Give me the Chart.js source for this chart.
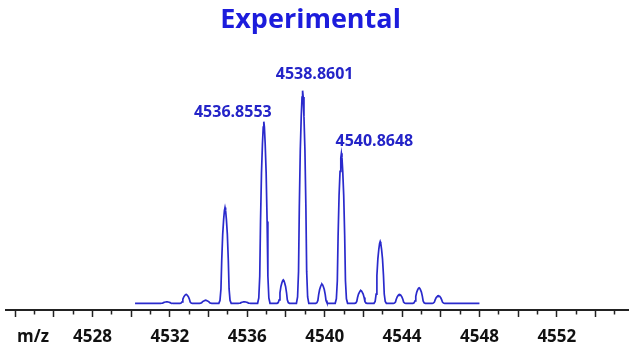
<!DOCTYPE html>
<html>
<head>
<meta charset="utf-8">
<script src="https://cdn.jsdelivr.net/npm/chart.js@4"></script>
<style>
  html, body { margin: 0; padding: 0; background: #ffffff; }
  #wrap { width: 629px; height: 354px; }
</style>
</head>
<body>
<div id="wrap"><canvas id="c" width="629" height="354"></canvas></div>
<script>
// Isotope peaks of the measured spectrum (m/z, relative intensity %)
const peakMz = [4531.84, 4532.84, 4533.85, 4534.85, 4535.85, 4536.8553, 4537.86,
                4538.8601, 4539.86, 4540.8648, 4541.87, 4542.87, 4543.87, 4544.88, 4545.88];
const peakIntensity = [0.7, 4.2, 1.4, 45, 0.7, 85.4, 11, 100, 9, 70.5, 6, 29, 4.2, 7.3, 3.6];

// Sampled profile of a single peak: m/z offset from the apex and fraction of apex height
const profileOffset = [-0.32, -0.26, -0.21, -0.17, -0.12, -0.07, -0.03, 0,
                       0.03, 0.07, 0.12, 0.17, 0.21, 0.26, 0.32];
const profileFraction = [0, 0.03, 0.15, 0.45, 0.72, 0.88, 0.97, 1,
                         0.97, 0.88, 0.72, 0.45, 0.15, 0.03, 0];

// Acquired m/z window
const scanStart = 4530.2;
const scanEnd = 4548.0;

// Annotated peaks
const labeledMz = [4536.8553, 4538.8601, 4540.8648];

// Axis ticks
const tickValues = [];
for (let v = 4524; v <= 4555; v++) tickValues.push(v);
const tickLabels = [4528, 4532, 4536, 4540, 4544, 4548, 4552];

// Label placement (pixel offsets from the peak apex)
const labelDx = [-31, 12, 33];
const labelDy = [5, 11.5, 7];

// Build the profile trace
const trace = [{ x: scanStart, y: 0 }];
peakMz.forEach((mz, i) => {
  profileOffset.forEach((off, k) => {
    trace.push({ x: mz + off, y: peakIntensity[i] * profileFraction[k] });
  });
});
trace.push({ x: scanEnd, y: 0 });

const FONT = '"Open Sans", "DejaVu Sans", sans-serif';
const TICK_PAD = 10;

const textPlugin = {
  id: 'spectrumText',
  afterDatasetsDraw(chart) {
    const ctx = chart.ctx;
    const xs = chart.scales.x;
    const ys = chart.scales.y;
    ctx.save();
    // Title
    ctx.fillStyle = '#1c1cdc';
    ctx.font = 'bold 27px ' + FONT;
    ctx.textAlign = 'center';
    ctx.textBaseline = 'alphabetic';
    ctx.fillText('Experimental', 310.5, 28);
    // Peak annotations
    ctx.fillStyle = '#2424c8';
    ctx.font = 'bold 16px ' + FONT;
    labeledMz.forEach((mz, i) => {
      const idx = peakMz.indexOf(mz);
      const px = xs.getPixelForValue(mz) + labelDx[i];
      const py = ys.getPixelForValue(peakIntensity[idx]) - labelDy[i];
      ctx.fillText(mz.toFixed(4), px, py);
    });
    // Axis unit, on the same line as the tick labels
    ctx.fillStyle = '#111111';
    ctx.font = 'bold 17px ' + FONT;
    ctx.textAlign = 'center';
    ctx.textBaseline = 'middle';
    ctx.fillText('m/z', 33, xs.top + 7 + TICK_PAD + 17 * 1.2 / 2);
    ctx.restore();
  }
};

new Chart(document.getElementById('c'), {
  type: 'line',
  data: {
    datasets: [{
      data: trace,
      borderColor: '#2a2acc',
      borderWidth: 1.7,
      pointRadius: 0,
      tension: 0,
      fill: false
    }]
  },
  options: {
    responsive: false,
    animation: false,
    events: [],
    layout: { padding: { left: 6, right: 0, top: 80, bottom: 0 } },
    plugins: { legend: { display: false }, title: { display: false }, tooltip: { enabled: false } },
    scales: {
      x: {
        type: 'linear',
        min: 4523.53,
        max: 4555.73,
        afterBuildTicks(scale) { scale.ticks = tickValues.map(v => ({ value: v })); },
        afterFit(scale) { scale.height = 44; },
        border: { display: true, color: '#222222', width: 2 },
        grid: {
          drawOnChartArea: false,
          drawTicks: true,
          tickLength: 7,
          tickWidth: 1.5,
          tickColor: '#222222',
          tickBorderDash: (ctx) => (ctx.tick && ctx.tick.value % 2 !== 0) ? [3.5, 50] : []
        },
        ticks: {
          autoSkip: false,
          maxRotation: 0,
          padding: TICK_PAD,
          color: '#111111',
          font: { family: FONT, size: 17, weight: 'bold' },
          callback: (v) => tickLabels.includes(v) ? String(v) : ''
        }
      },
      y: {
        display: false,
        min: -3.15,
        max: 105
      }
    }
  },
  plugins: [textPlugin]
});
</script>
</body>
</html>
